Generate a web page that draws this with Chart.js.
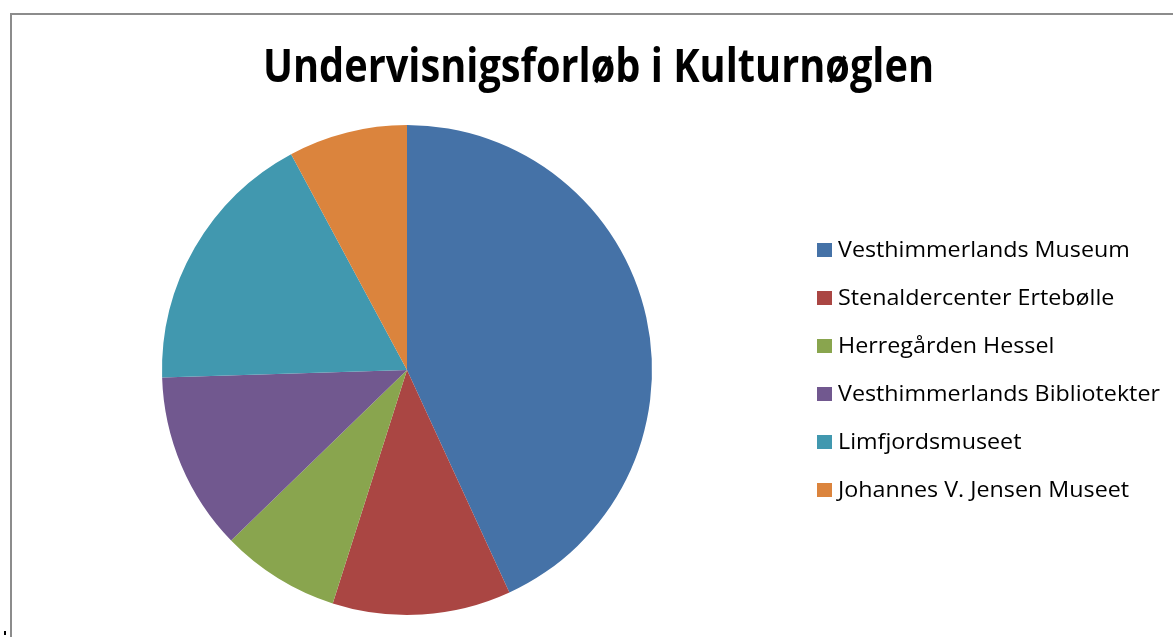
<!DOCTYPE html>
<html>
<head>
<meta charset="utf-8">
<script src="https://cdn.jsdelivr.net/npm/chart.js@4.4.1/dist/chart.umd.min.js"></script>
<style>
  html, body { margin: 0; padding: 0; background: #fff; overflow: hidden; }
  #frame { position: absolute; left: 10px; top: 13px; width: 1300px; height: 800px; border-left: 2px solid #8c8c8c; border-top: 2px solid #8c8c8c; }
  #wrap { position: absolute; left: 0; top: 0; width: 1173px; height: 637px; }
  #dot { position: absolute; left: 4px; top: 631px; width: 2px; height: 4px; background: #000; }
</style>
</head>
<body>
<div id="frame"></div>
<div id="dot"></div>
<div id="wrap"><canvas id="c" width="1173" height="637"></canvas></div>
<script>
const titleText = "Undervisnigsforløb i Kulturnøglen";
const categories = [
  "Vesthimmerlands Museum",
  "Stenaldercenter Ertebølle",
  "Herregården Hessel",
  "Vesthimmerlands Bibliotekter",
  "Limfjordsmuseet",
  "Johannes V. Jensen Museet"
];
const values = [22, 6, 4, 6, 9, 4];
const colors = ["#4572A7", "#AA4643", "#89A54E", "#71588F", "#4198AF", "#DB843D"];

const overlay = {
  id: 'overlay',
  afterDraw(chart) {
    const ctx = chart.ctx;
    ctx.save();
    // Title
    ctx.fillStyle = '#000';
    ctx.font = 'bold 46px "Open Sans"';
    ctx.textBaseline = 'alphabetic';
    ctx.textAlign = 'left';
    const tw = ctx.measureText(titleText).width;
    const targetW = 671;
    ctx.save();
    ctx.translate(263, 82);
    ctx.scale(targetW / tw, 1);
    ctx.fillText(titleText, 0, 0);
    ctx.restore();

    // Legend
    ctx.font = '21px "Open Sans"';
    const longest = ctx.measureText("Vesthimmerlands Bibliotekter").width;
    const sx = 322 / longest;
    const rowY = [250, 298, 346, 394, 442, 490];
    categories.forEach((lab, i) => {
      const cy = rowY[i];
      ctx.fillStyle = colors[i];
      ctx.fillRect(817, cy - 7, 15, 14);
      ctx.fillStyle = '#000';
      ctx.save();
      ctx.translate(838, cy + 7);
      ctx.scale(sx, 1);
      ctx.fillText(lab, 0, 0);
      ctx.restore();
    });
    ctx.restore();
  }
};

new Chart(document.getElementById('c'), {
  type: 'pie',
  data: {
    labels: categories,
    datasets: [{
      data: values,
      backgroundColor: colors,
      borderWidth: 0,
      hoverOffset: 0,
      offset: 0
    }]
  },
  options: {
    responsive: false,
    animation: false,
    events: [],
    layout: { padding: { left: 162, right: 521, top: 125, bottom: 22 } },
    plugins: {
      legend: { display: false },
      title: { display: false },
      tooltip: { enabled: false }
    }
  },
  plugins: [overlay]
});
</script>
</body>
</html>
